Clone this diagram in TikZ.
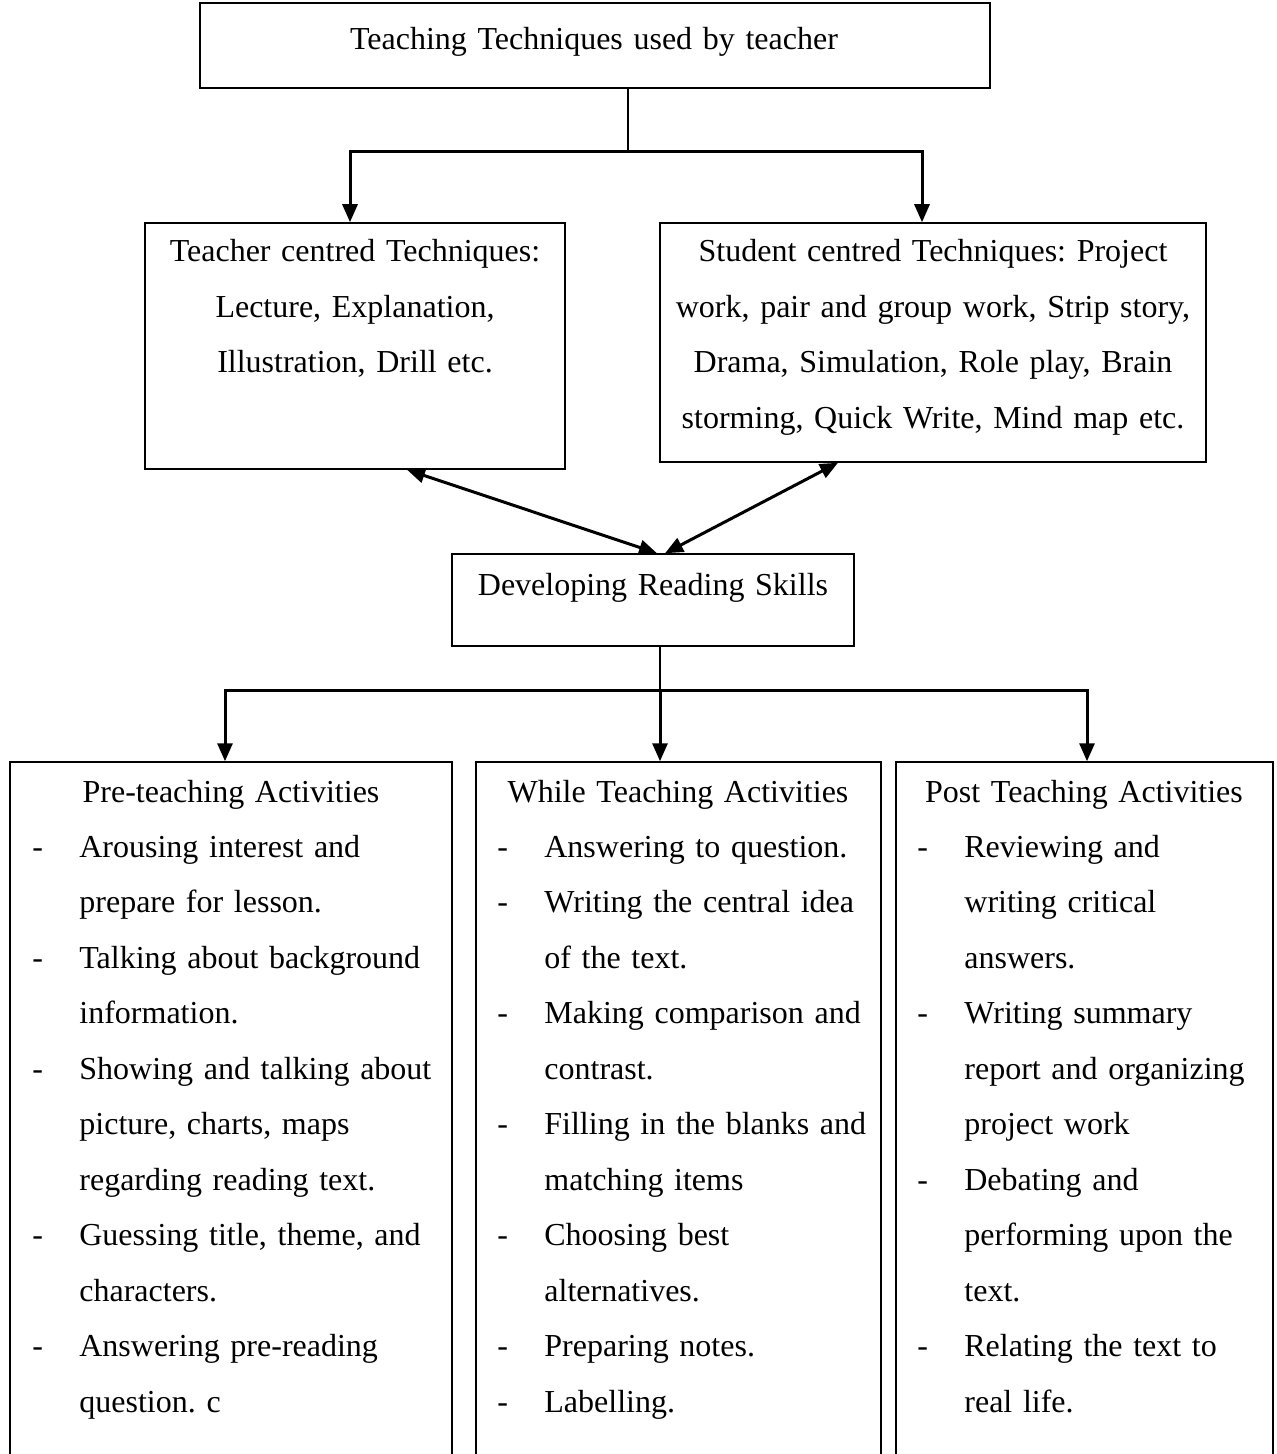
\documentclass[tikz,border=0pt]{standalone}
\usepackage{fontspec}
\setmainfont{Liberation Serif}
\usetikzlibrary{arrows.meta}
\usetikzlibrary{fit}
\frenchspacing
\newcommand{\listdash}{\leavevmode\llap{\makebox[23.5pt][l]{-}}}
\tikzset{
    box/.style={draw=black, line width=0.75pt, inner sep=0pt},
    boxtext/.style={font=\fontsize{16pt}{27.75pt}\selectfont, inner sep=0pt, align=center, text width=270pt, anchor=base},
    listtext/.style={font=\fontsize{16pt}{27.75pt}\selectfont, inner sep=0pt, align=left, text width=200pt, anchor=base west},
    stem/.style={line width=1pt},
    arr/.style={line width=1.5pt, -{Triangle[length=9pt,width=7.5pt]}},
    dblarr/.style={line width=1.5pt, {Triangle[length=9pt,width=7.5pt]}-{Triangle[length=9pt,width=7.5pt]}}
}

\begin{document}
\begin{tikzpicture}[x=0.5pt, y=-0.5pt]
    \clip (0,0) rectangle (1277,1454);
    % boxes
    \node[box, fit={(200,3) (990,88)}] (tt) {};
    \node[box, fit={(145,223) (565,469)}] (tc) {};
    \node[box, fit={(660,223) (1206,462)}] (sc) {};
    \node[box, fit={(452,554) (854,646)}] (drs) {};
    \node[box, fit={(10,762) (452,1480)}] (pre) {};
    \node[box, fit={(476,762) (881,1480)}] (wta) {};
    \node[box, fit={(896,762) (1273,1480)}] (pta) {};
    % box texts
    \node[boxtext] (tt-text) at (594,50) {Teaching Techniques used by teacher};
    \node[boxtext] (tc-text) at (355,262) {Teacher centred Techniques:\\Lecture, Explanation,\\Illustration, Drill etc.};
    \node[boxtext] (sc-text) at (933,262) {Student centred Techniques: Project\\work, pair and group work, Strip story,\\Drama, Simulation, Role play, Brain\\storming, Quick Write, Mind map etc.};
    \node[boxtext] (drs-text) at (653,595) {Developing Reading Skills};
    \node[boxtext] (pre-head) at (231,802) {Pre-teaching Activities};
    \node[boxtext] (wta-head) at (678,802) {While Teaching Activities};
    \node[boxtext] (pta-head) at (1084,802) {Post Teaching Activities};
    \node[listtext] (pre-list) at (79,857) {\listdash Arousing interest and\\prepare for lesson.\\
        \listdash Talking about background\\information.\\
        \listdash Showing and talking about\\picture, charts, maps\\regarding reading text.\\
        \listdash Guessing title, theme, and\\characters.\\
        \listdash Answering pre-reading\\question. c};
    \node[listtext] (wta-list) at (544,857) {\listdash Answering to question.\\
        \listdash Writing the central idea\\of the text.\\
        \listdash Making comparison and\\contrast.\\
        \listdash Filling in the blanks and\\matching items\\
        \listdash Choosing best\\alternatives.\\
        \listdash Preparing notes.\\
        \listdash Labelling.};
    \node[listtext] (pta-list) at (964,857) {\listdash Reviewing and\\writing critical\\answers.\\
        \listdash Writing summary\\report and organizing\\project work\\
        \listdash Debating and\\performing upon the\\text.\\
        \listdash Relating the text to\\real life.};
    % connectors
    \coordinate (tsplit) at (628,152);
    \draw[stem] (tt.south -| tsplit) -- (tsplit);
    \draw[arr] (tsplit) -| ([xshift=-2.5pt]tc.north);
    \draw[arr] (tsplit) -| ([xshift=-5.5pt]sc.north);
    \draw[dblarr] ([xshift=26pt]tc.south) -- ([xshift=2pt]drs.north);
    \draw[dblarr] ([xshift=-47.5pt]sc.south) -- ([xshift=6pt]drs.north);
    \coordinate (bsplit) at (660,690);
    \draw[stem] (drs.south -| bsplit) -- (bsplit);
    \draw[arr] (bsplit) -| ([xshift=-3pt]pre.north);
    \draw[arr] (bsplit) -- (bsplit |- wta.north);
    \draw[arr] (bsplit) -| ([xshift=1.25pt]pta.north);
\end{tikzpicture}
\end{document}
